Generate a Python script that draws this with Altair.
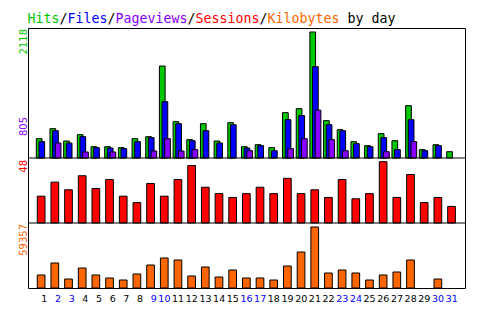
import altair as alt
import pandas as pd

# ---- data ----
days = list(range(1, 32))
hits = [325, 493, 286, 392, 190, 190, 174, 325, 359, 1546, 611, 308, 577, 286, 594, 190,
        224, 174, 762, 829, 2118, 628, 476, 275, 207, 409, 291, 880, 140, 224, 106]
files = [275, 459, 252, 359, 174, 168, 157, 275, 342, 947, 577, 291, 459, 252, 560, 168,
         207, 123, 644, 712, 1535, 560, 459, 241, 190, 342, 140, 644, 123, 207, 0]
pageviews = [0, 252, 0, 101, 0, 101, 0, 0, 118, 325, 118, 140, 0, 0, 0, 123,
             0, 0, 157, 325, 805, 308, 123, 0, 0, 106, 0, 275, 0, 0, 0]
sessions = [21, 32, 26, 37, 27, 34, 21, 16, 31, 21, 34, 45, 28, 23, 20, 23,
            28, 23, 35, 23, 26, 20, 34, 19, 23, 48, 20, 38, 16, 20, 13]
kbytes = [12650, 24326, 8757, 19461, 12650, 9731, 7784, 13623, 22380, 29192, 27246, 11677,
          20434, 10703, 17515, 9731, 9731, 7784, 21407, 35030, 59357, 14596, 17515, 14596,
          7784, 12650, 15569, 27246, 0, 8757, 0]
weekend_days = [2, 3, 9, 10, 16, 17, 23, 24, 30, 31]

title_parts = ["Hits", "/", "Files", "/", "Pageviews", "/", "Sessions", "/", "Kilobytes", " by day"]
max_labels = {"hits": "2118", "pageviews": "805", "sessions": "48", "kbytes": "59357"}

# ---- styles / layout ----
GREEN, BLUE, PURPLE, RED, ORANGE = "#00C800", "#0000FF", "#8800FF", "#FF0000", "#FF6600"
title_colors = [GREEN, "black", BLUE, "black", PURPLE, "black", RED, "black", ORANGE, "black"]
W, STEP = 437, 14
H_TOP, H_MID, H_BOT = 130, 65, 65
Y1, Y2, Y3 = H_TOP, H_TOP + H_MID, H_TOP + H_MID + H_BOT
MONO, SANS = "DejaVu Sans Mono", "DejaVu Sans"

df = pd.DataFrame({
    "day": days, "hits": hits, "files": files, "pageviews": pageviews,
    "sessions": sessions, "kbytes": kbytes,
    "label": [str(d) for d in days],
    "kind": ["weekend" if d in weekend_days else "weekday" for d in days],
})

xscale = alt.Scale(domain=[5 / STEP, (W + 5) / STEP], nice=False, zero=False)
ytop = alt.Scale(domain=[0, 2118 * 130 / 126], nice=False, range=[Y1, 0])
ymid = alt.Scale(domain=[0, 48 * 65 / 61.3], nice=False, range=[Y2, Y1])
ybot = alt.Scale(domain=[0, 59357 * 65 / 61], nice=False, range=[Y3, Y2])


def bars(field, color, off, width, yscale):
    return (
        alt.Chart(df)
        .transform_filter(alt.datum[field] > 0)
        .mark_bar(width=width, xOffset=off, color=color, stroke="black", strokeWidth=1)
        .encode(
            x=alt.X("day:Q", scale=xscale, axis=None),
            y=alt.Y(f"{field}:Q", scale=yscale, axis=None),
        )
    )


def vlabel(text, color, ypos):
    return (
        alt.Chart(pd.DataFrame({"t": [text]}))
        .mark_text(angle=270, align="right", baseline="alphabetic", font=SANS,
                   fontSize=10, color=color)
        .encode(text="t:N", x=alt.value(-1.3), y=alt.value(ypos))
    )


def hline(ypos):
    return (
        alt.Chart(pd.DataFrame({"t": [0]}))
        .mark_rule(color="black", strokeWidth=1)
        .encode(x=alt.value(0), x2=alt.value(W), y=alt.value(ypos))
    )


# title segments, laid out in a monospace font (leading spaces become an offset)
title_layers = []
off = 0
for part, col in zip(title_parts, title_colors):
    stripped = part.lstrip(" ")
    lead = len(part) - len(stripped)
    title_layers.append(
        alt.Chart(pd.DataFrame({"t": [stripped]}))
        .mark_text(align="left", baseline="alphabetic", font=MONO, fontSize=13.3, color=col)
        .encode(text="t:N", x=alt.value((off + lead) * 8 - 0.5), y=alt.value(-5.3))
    )
    off += len(part)


def xlabels(single, dx):
    cond = "length(datum.label) == 1" if single else "length(datum.label) > 1"
    return (
        alt.Chart(df)
        .transform_filter(cond)
        .mark_text(align="center", baseline="alphabetic", dx=dx, font=SANS, fontSize=9.5)
        .encode(
            x=alt.X("day:Q", scale=xscale, axis=None),
            y=alt.value(Y3 + 14),
            text="label:N",
            color=alt.Color("kind:N", scale=alt.Scale(domain=["weekday", "weekend"],
                                                      range=["black", BLUE]), legend=None),
        )
    )


chart = (
    alt.layer(
        bars("hits", GREEN, -2.65, 5.7, ytop),
        bars("files", BLUE, 0, 5.7, ytop),
        bars("pageviews", PURPLE, 2.65, 5.7, ytop),
        bars("sessions", RED, -0.65, 7.7, ymid),
        bars("kbytes", ORANGE, -0.65, 7.7, ybot),
        hline(Y1),
        hline(Y2),
        vlabel(max_labels["hits"], GREEN, 1),
        vlabel(max_labels["pageviews"], PURPLE, 89),
        vlabel(max_labels["sessions"], RED, Y1 + 2),
        vlabel(max_labels["kbytes"], ORANGE, Y2 + 1),
        xlabels(True, 2.5),
        xlabels(False, -0.5),
        *title_layers,
    )
    .resolve_scale(y="independent", color="independent")
    .properties(
        width=W, height=Y3, background="white",
        autosize=alt.AutoSizeParams(type="none"),
        padding={"left": 20, "top": 20, "right": 15, "bottom": 18},
    )
    .configure_view(stroke="black", strokeWidth=1)
)

chart.save("out.html", embed_options={"renderer": "svg", "actions": False})
